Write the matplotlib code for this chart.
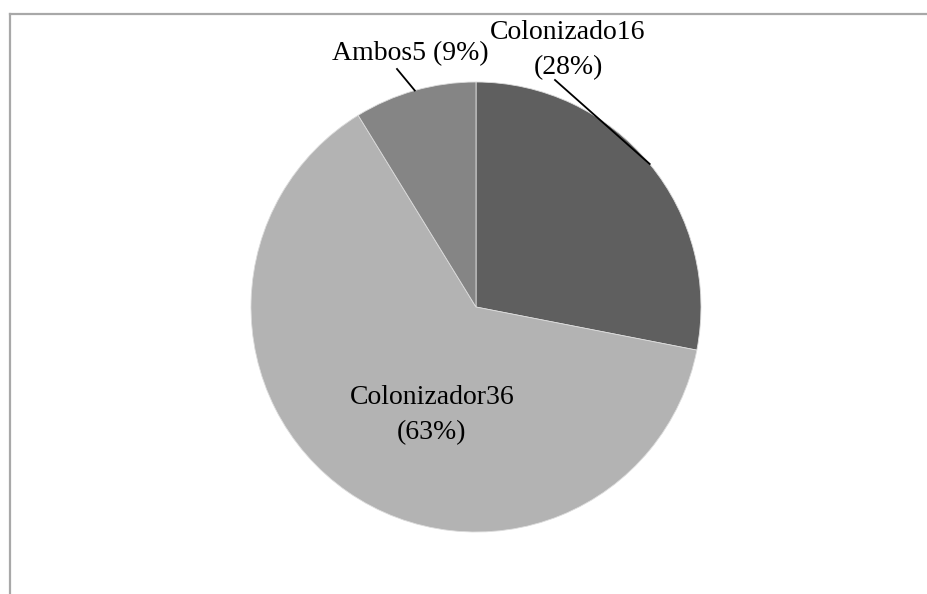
import numpy as np
import matplotlib.pyplot as plt
from matplotlib.lines import Line2D

plt.rcParams['font.family'] = ['Liberation Serif', 'DejaVu Serif']

labels = ['Colonizado', 'Colonizador', 'Ambos']
counts = [16, 36, 5]
colors = ['#5f5f5f', '#b3b3b3', '#858585']

W, H = 928, 594
fig = plt.figure(figsize=(W / 100, H / 100), dpi=100)
ax = fig.add_axes([0, 0, 1, 1])

cx, cy, r = 476, H - 307, 225
wedges, _ = ax.pie(counts, colors=colors, startangle=90, counterclock=False,
                   center=(cx, cy), radius=r, frame=True,
                   wedgeprops=dict(linewidth=0.6, edgecolor='#dcdcdc'))
ax.set_xlim(0, W)
ax.set_ylim(0, H)
ax.set_aspect('equal')
ax.axis('off')

total = sum(counts)
pct = [round(100 * c / total) for c in counts]


def mid_point(w):
    ang = np.deg2rad((w.theta1 + w.theta2) / 2)
    return cx + r * np.cos(ang), cy + r * np.sin(ang)


fs = 20
# outside labels with leader lines
ex, ey = mid_point(wedges[0])
ax.text(568, H - 50, f'{labels[0]}{counts[0]}\n({pct[0]}%)', ha='center', va='center',
        fontsize=fs, linespacing=1.5)
ax.plot([555, ex], [H - 80, ey], color='black', lw=1.3)

ex, ey = mid_point(wedges[2])
ax.text(410, H - 54, f'{labels[2]}{counts[2]} ({pct[2]}%)', ha='center', va='center',
        fontsize=fs)
ax.plot([397, ex], [H - 69, ey], color='black', lw=1.3)

# inside label
ax.text(432, H - 415, f'{labels[1]}{counts[1]}\n({pct[1]}%)', ha='center', va='center',
        fontsize=fs, linespacing=1.5)

# chart border
fig.add_artist(Line2D([10 / W, 1], [1 - 14 / H, 1 - 14 / H], color='#a8a8a8', lw=1.6))
fig.add_artist(Line2D([10 / W, 10 / W], [0, 1 - 14 / H], color='#a8a8a8', lw=1.6))

fig.savefig('out.png', dpi=100)
